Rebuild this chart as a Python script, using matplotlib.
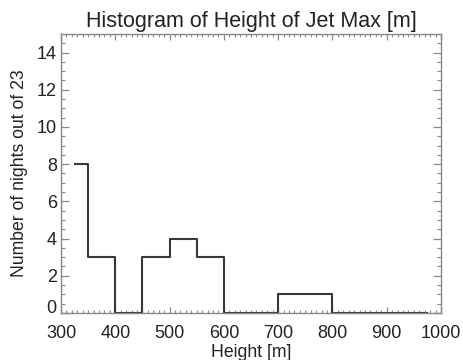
import matplotlib.pyplot as plt
from matplotlib.ticker import MultipleLocator
import numpy as np

plt.rcParams['font.family'] = ['Liberation Sans', 'DejaVu Sans']

# bin centres (m) and counts of nights
centers = [325, 375, 425, 475, 525, 575, 625, 675, 725, 775, 825, 875, 925, 975]
counts = [8, 3, 0, 3, 4, 3, 0, 0, 1, 1, 0, 0, 0, 0]

fig = plt.figure(figsize=(4.63, 3.6), dpi=100)
ax = fig.add_axes([0.1318, 0.1306, 0.8207, 0.775])

ax.step(centers, counts, where='mid', color='#383838', lw=1.5)

ax.set_xlim(300, 1000)
ax.set_ylim(0, 15)
ax.xaxis.set_major_locator(MultipleLocator(100))
ax.xaxis.set_minor_locator(MultipleLocator(10))
ax.yaxis.set_major_locator(MultipleLocator(2))
ax.yaxis.set_minor_locator(MultipleLocator(0.5))

axcol = '#888888'
for s in ax.spines.values():
    s.set_color(axcol)
    s.set_linewidth(1.0)
ax.tick_params(which='both', direction='in', top=True, right=True, color=axcol,
               labelcolor='#222222', labelsize=13)
ax.tick_params(axis='x', which='major', length=4.3, width=0.9, pad=9)
ax.tick_params(axis='x', which='minor', length=2.2, width=0.8)
ax.tick_params(axis='y', which='major', length=5.8, width=0.9, pad=3)
ax.tick_params(axis='y', which='minor', length=2.9, width=0.8)

ax.set_title('Histogram of Height of Jet Max [m]', fontsize=15.5, color='#222222', pad=5)
ax.set_xlabel('Height [m]', fontsize=12.7, color='#222222', labelpad=1)
ax.set_ylabel('Number of nights out of 23', fontsize=12.7, color='#222222', labelpad=6)

# the "0" label sits a little higher in the original
fig.canvas.draw()
for t in ax.yaxis.get_major_ticks():
    if abs(t.get_loc()) < 1e-9:
        t.label1.set_verticalalignment('baseline')

fig.savefig('out.png', dpi=100)
